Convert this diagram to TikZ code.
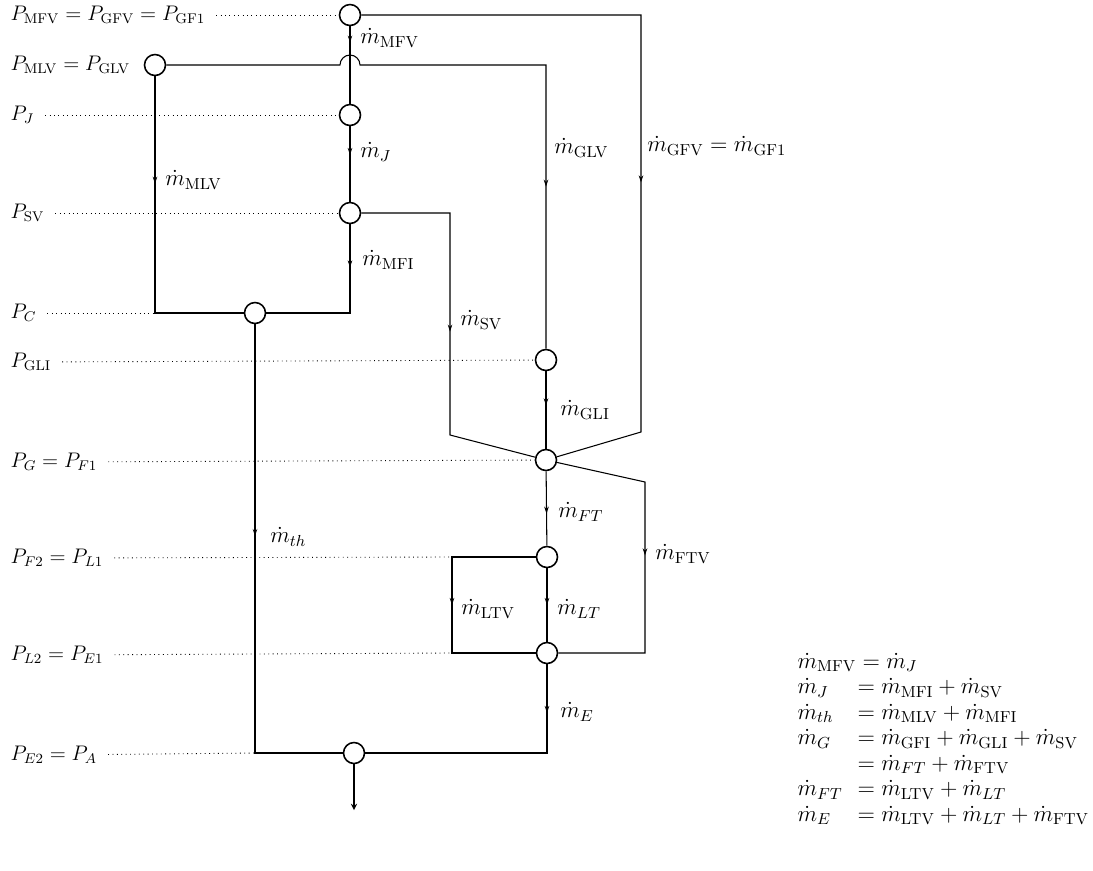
\RequirePackage{fix-cm}
\documentclass[tikz,border=0pt]{standalone}
\usepackage{amsmath, amssymb}
\usetikzlibrary{arrows.meta, decorations.markings, positioning}

\begin{document}
\begin{tikzpicture}[x=0.02cm, y=-0.02cm, >=stealth, line width=0.6pt,
    font=\fontsize{12}{14}\selectfont,
    jn/.style={circle, draw, line width=0.9pt, minimum size=0.42cm, inner sep=0pt},
    lvl/.style={anchor=west, inner sep=0pt},
    guide/.style={dotted, line width=0.5pt, shorten <=6pt},
    flow/.style={postaction={decorate}, decoration={markings,
        mark=at position #1 with {\arrow{Stealth[length=4pt,width=2.6pt]}}}},
    lbl/.style={anchor=west, inner sep=1pt, font=\fontsize{13}{15}\selectfont}]
    \useasboundingbox (0,0) rectangle (1093,870);

    % pressure levels
    \node[lvl] (pmfv) at (10,15) {$P_{\mathrm{MFV}}=P_{\mathrm{GFV}}=P_{\mathrm{GF1}}$};
    \node[lvl] (pmlv) at (10,65) {$P_{\mathrm{MLV}}=P_{\mathrm{GLV}}$};
    \node[lvl] (pj) at (10,115) {$P_J$};
    \node[lvl] (psv) at (10,213) {$P_{\mathrm{SV}}$};
    \node[lvl] (pc) at (10,313) {$P_C$};
    \node[lvl] (pgli) at (10,362) {$P_{\mathrm{GLI}}$};
    \node[lvl] (pg) at (10,462) {$P_G=P_{F1}$};
    \node[lvl] (pf) at (10,558) {$P_{F2}=P_{L1}$};
    \node[lvl] (pl) at (10,655) {$P_{L2}=P_{E1}$};
    \node[lvl] (pe) at (10,755) {$P_{E2}=P_A$};

    % junctions
    \node[jn] (mfv) at (350,15) {};
    \node[jn] (mlv) at (155,65) {};
    \node[jn] (j) at (350,115) {};
    \node[jn] (sv) at (350,213) {};
    \node[jn] (c) at (255,313) {};
    \node[jn] (gli) at (546,360) {};
    \node[jn] (g) at (546,460) {};
    \node[jn] (f2) at (547,557) {};
    \node[jn] (l2) at (547,653) {};
    \node[jn] (a) at (354,753) {};

    \coordinate (gfv) at (641,15);
    \coordinate (gfvb) at (641,432);
    \coordinate (hop) at (340,65);
    \coordinate (svr) at (450,213);
    \coordinate (svb) at (450,435);
    \coordinate (ftv) at (645,482);
    \coordinate (ftvb) at (645,653);
    \coordinate (ltv) at (452,557);
    \coordinate (ltvb) at (452,653);
    \coordinate (out) at (354,810);

    % dotted level lines
    \draw[guide] (pmfv) -- (mfv);
    \draw[guide] (pj) -- (j);
    \draw[guide] (psv) -- (sv);
    \draw[guide] (pc) -- (mlv |- c);
    \draw[guide] (pgli) -- (gli);
    \draw[guide] (pg) -- (g);
    \draw[guide] (pf) -- (ltv);
    \draw[guide] (pl) -- (ltvb);
    \draw[guide] (pe) -- (c |- a);

    % flow lines
    \draw[flow=0.21] (mfv) -- (j);
    \draw[flow=0.38] (j) -- (sv);
    \draw[flow=0.25] (sv) |- (c);
    \draw[flow=0.33] (mlv) |- (c);
    \draw[flow=0.41] (c) |- (a);
    \draw[flow=0.57] (mfv) -- (gfv) -- (gfvb) -- (g);
    \draw[flow=0.76] (mlv) -- (hop) arc[start angle=180, end angle=0, radius=0.2cm]
        -- (gli |- mlv) -- (gli);
    \draw[flow=0.52] (sv) -- (svr) -- (svb) -- (g);
    \draw[flow=0.44] (gli) -- (g);
    \draw[flow=0.57] (g) -- (f2);
    \draw[flow=0.47] (g) -- (ftv) -- (ftvb) -- (l2);
    \draw[flow=0.5] (f2) -- (ltv) -- (ltvb) -- (l2);
    \draw[flow=0.5] (f2) -- (l2);
    \draw[flow=0.18] (l2) |- (a);
    \draw[->] (a) -- (out);

    % flow labels
    \node[lbl] (qmfv) at (358,38) {$\dot m_{\mathrm{MFV}}$};
    \node[lbl] (qj) at (358,152) {$\dot m_J$};
    \node[lbl] (qmlv) at (163,180) {$\dot m_{\mathrm{MLV}}$};
    \node[lbl] (qmfi) at (360,260) {$\dot m_{\mathrm{MFI}}$};
    \node[lbl] (qglv) at (552,148) {$\dot m_{\mathrm{GLV}}$};
    \node[lbl] (qgfv) at (645,146) {$\dot m_{\mathrm{GFV}}=\dot m_{\mathrm{GF1}}$};
    \node[lbl] (qsv) at (458,320) {$\dot m_{\mathrm{SV}}$};
    \node[lbl] (qgli) at (558,410) {$\dot m_{\mathrm{GLI}}$};
    \node[lbl] (qft) at (556,512) {$\dot m_{FT}$};
    \node[lbl] (qftv) at (653,554) {$\dot m_{\mathrm{FTV}}$};
    \node[lbl] (qltv) at (459,609) {$\dot m_{\mathrm{LTV}}$};
    \node[lbl] (qlt) at (555,609) {$\dot m_{LT}$};
    \node[lbl] (qe) at (558,712) {$\dot m_E$};
    \node[lbl] (qth) at (268,537) {$\dot m_{th}$};

    % balances
    \node[anchor=north west, inner sep=0pt, font=\fontsize{13}{14.5}\selectfont] (eqs) at (797,650) {%
      \begin{tabular}{@{}p{1.2cm}@{}l@{}}
        \multicolumn{2}{@{}l@{}}{$\dot m_{\mathrm{MFV}}=\dot m_J$}\\
        $\dot m_J$ & $=\dot m_{\mathrm{MFI}}+\dot m_{\mathrm{SV}}$\\
        $\dot m_{th}$ & $=\dot m_{\mathrm{MLV}}+\dot m_{\mathrm{MFI}}$\\
        $\dot m_G$ & $=\dot m_{\mathrm{GFI}}+\dot m_{\mathrm{GLI}}+\dot m_{\mathrm{SV}}$\\
        & $=\dot m_{FT}+\dot m_{\mathrm{FTV}}$\\
        $\dot m_{FT}$ & $=\dot m_{\mathrm{LTV}}+\dot m_{LT}$\\
        $\dot m_E$ & $=\dot m_{\mathrm{LTV}}+\dot m_{LT}+\dot m_{\mathrm{FTV}}$
      \end{tabular}};
\end{tikzpicture}
\end{document}
